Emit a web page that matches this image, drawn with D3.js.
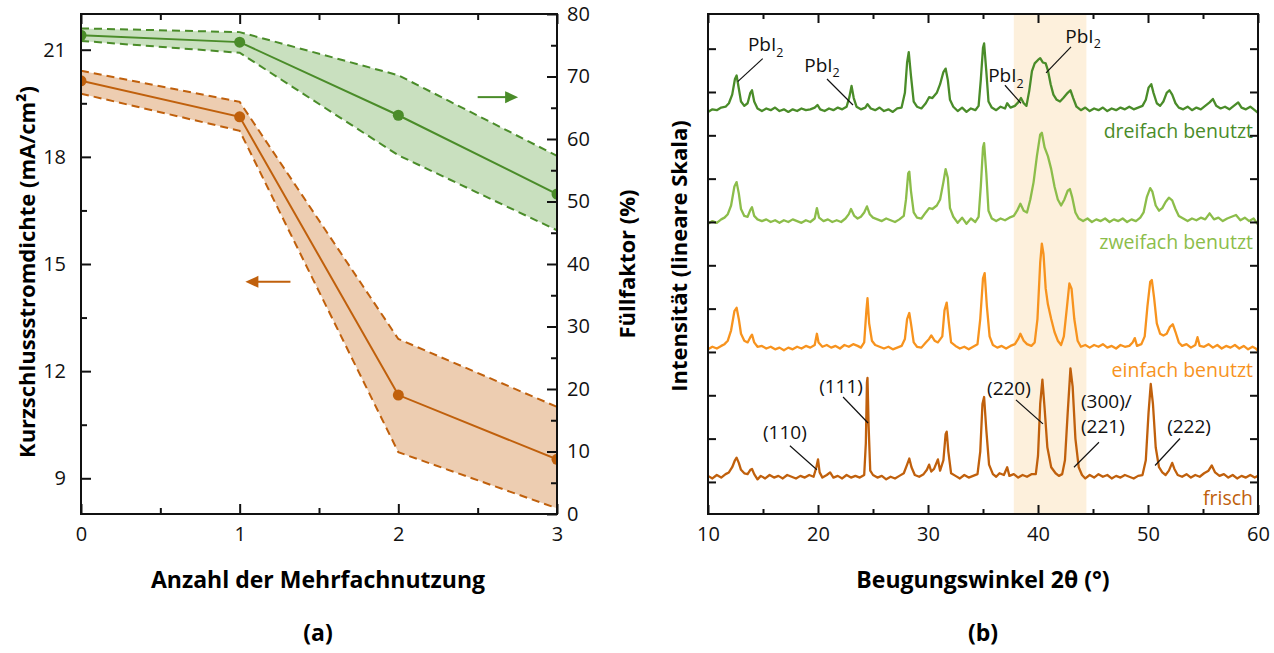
<!DOCTYPE html>
<html>
<head>
<meta charset="utf-8">
<script src="https://cdn.jsdelivr.net/npm/d3@7"></script>
<style>
  body { margin: 0; background: #fff; }
  text { font-family: 'Open Sans', sans-serif; }
</style>
</head>
<body>
<svg id="chart" width="1274" height="653"></svg>
<script>
// ---------- (a) data ----------
const uses = [0, 1, 2, 3];
const jscMean = [20.13, 19.12, 11.33, 9.53];
const jscUpper = [20.41, 19.54, 12.9, 11.0];
const jscLower = [19.77, 18.73, 9.73, 8.16];
const ffMean = [76.6, 75.5, 63.8, 51.2];
const ffUpper = [77.7, 77.1, 70.2, 57.3];
const ffLower = [75.7, 73.8, 57.4, 45.4];

const jscTicks = [9, 12, 15, 18, 21];
const ffTicks = [0, 10, 20, 30, 40, 50, 60, 70, 80];
const useTicks = [0, 1, 2, 3];

// ---------- (b) data : [2theta, intensity above baseline] ----------
const frisch = [
  [10.0,2],[10.4,-1],[10.8,3],[11.2,0],[11.6,4],[11.9,6],[12.2,12],[12.45,20],[12.6,23],[12.8,17],[13.0,9],[13.3,5],
  [13.6,4],[13.85,9],[14.0,10],[14.2,4],[14.5,-2],[14.8,2],[15.2,-1],[15.6,3],[16.0,0],[16.4,2],[16.8,-1],[17.2,3],
  [17.6,1],[18.0,-1],[18.4,2],[18.8,0],[19.2,3],[19.6,1],[19.85,12],[20.0,21],[20.15,6],[20.4,0],[20.8,3],[21.1,6],
  [21.4,0],[21.8,2],[22.2,-1],[22.6,3],[23.0,0],[23.4,2],[23.8,0],[24.2,3],[24.35,40],[24.45,110],[24.5,115],[24.6,60],
  [24.75,8],[25.0,3],[25.4,0],[25.8,2],[26.2,-2],[26.6,1],[27.0,-1],[27.4,2],[27.8,5],[28.1,15],[28.3,22],[28.5,12],
  [28.8,3],[29.2,1],[29.6,4],[29.9,9],[30.1,15],[30.3,7],[30.55,10],[30.9,21],[31.1,8],[31.4,20],[31.6,50],[31.7,53],
  [31.85,30],[32.1,5],[32.5,2],[32.9,-1],[33.3,3],[33.7,0],[34.1,2],[34.5,4],[34.75,30],[34.95,85],[35.1,93],[35.3,55],
  [35.55,15],[35.9,4],[36.2,1],[36.5,5],[36.9,3],[37.2,12],[37.4,2],[37.8,4],[38.2,0],[38.6,3],[39.0,1],[39.4,4],
  [39.8,4],[40.0,25],[40.2,85],[40.4,113],[40.6,80],[40.85,35],[41.2,12],[41.6,5],[41.9,2],[42.2,4],[42.45,20],[42.7,75],
  [42.95,126],[43.15,105],[43.4,45],[43.7,12],[44.0,3],[44.3,-1],[44.7,3],[45.1,0],[45.5,4],[45.9,1],[46.3,3],[46.7,-1],
  [47.1,2],[47.5,0],[47.9,3],[48.3,1],[48.7,-1],[49.1,2],[49.5,3],[49.8,20],[50.05,75],[50.25,108],[50.45,85],[50.7,35],
  [51.0,12],[51.3,6],[51.6,3],[51.9,8],[52.2,17],[52.4,10],[52.7,3],[53.1,1],[53.5,4],[53.9,0],[54.3,3],[54.7,1],
  [55.1,5],[55.5,8],[55.8,14],[56.1,6],[56.5,2],[56.9,4],[57.3,0],[57.7,3],[58.1,-1],[58.5,2],[58.9,0],[59.3,3],
  [59.7,0],[60.0,2]
];
const einfach = [
  [10.0,0],[10.4,3],[10.8,1],[11.2,4],[11.5,6],[11.8,10],[12.1,22],[12.4,44],[12.6,48],[12.8,35],[13.0,18],[13.3,10],
  [13.6,8],[13.85,14],[14.0,17],[14.2,8],[14.5,3],[14.9,4],[15.3,1],[15.7,3],[16.1,0],[16.5,2],[16.9,-1],[17.3,2],
  [17.7,0],[18.1,3],[18.5,1],[18.9,4],[19.3,2],[19.7,5],[19.9,18],[20.05,8],[20.4,3],[20.8,5],[21.2,2],[21.6,4],
  [22.0,1],[22.4,5],[22.8,3],[23.2,6],[23.6,4],[23.9,2],[24.2,8],[24.4,45],[24.5,59],[24.65,30],[24.9,10],[25.2,5],
  [25.6,3],[26.0,1],[26.4,3],[26.8,0],[27.2,2],[27.6,4],[27.9,12],[28.1,35],[28.3,42],[28.45,30],[28.7,8],[29.0,3],
  [29.4,2],[29.8,8],[30.1,12],[30.3,16],[30.6,10],[30.9,8],[31.3,15],[31.5,45],[31.7,54],[31.9,30],[32.1,8],[32.5,4],
  [32.9,1],[33.3,3],[33.7,0],[34.1,3],[34.5,6],[34.75,35],[35.0,82],[35.15,88],[35.35,50],[35.6,15],[35.9,5],[36.3,2],
  [36.7,4],[37.1,1],[37.5,4],[37.9,6],[38.2,12],[38.4,18],[38.7,10],[39.0,6],[39.4,4],[39.7,8],[39.95,35],[40.2,100],
  [40.35,122],[40.5,110],[40.7,70],[40.9,52],[41.2,35],[41.5,20],[41.8,10],[42.1,5],[42.35,15],[42.6,45],[42.85,76],[43.05,70],
  [43.3,35],[43.6,10],[43.9,3],[44.3,5],[44.7,2],[45.1,5],[45.5,3],[45.9,6],[46.3,2],[46.7,4],[47.1,1],[47.5,5],
  [47.9,3],[48.3,4],[48.6,8],[48.8,13],[49.0,4],[49.4,6],[49.7,15],[49.95,50],[50.2,78],[50.35,80],[50.55,60],[50.8,30],
  [51.1,18],[51.4,16],[51.7,18],[52.0,26],[52.25,29],[52.5,20],[52.8,8],[53.1,4],[53.5,6],[53.9,2],[54.3,5],[54.5,14],
  [54.7,4],[55.1,3],[55.5,6],[55.9,2],[56.3,5],[56.7,1],[57.1,4],[57.5,2],[57.9,5],[58.3,1],[58.7,4],[59.1,0],
  [59.5,3],[59.8,1],[60.0,-2]
];
const zweifach = [
  [10.0,-3],[10.4,0],[10.8,-2],[11.2,2],[11.5,4],[11.8,8],[12.1,18],[12.4,40],[12.6,45],[12.8,32],[13.0,14],[13.3,6],
  [13.6,5],[13.85,13],[14.0,16],[14.2,6],[14.5,2],[14.9,0],[15.3,2],[15.7,-1],[16.1,1],[16.5,-2],[16.9,1],[17.3,-1],
  [17.7,2],[18.1,0],[18.5,-2],[18.9,1],[19.3,-1],[19.7,3],[19.9,15],[20.1,4],[20.5,0],[20.9,2],[21.3,-1],[21.7,1],
  [22.1,-1],[22.5,3],[22.8,8],[23.0,14],[23.3,6],[23.6,3],[23.9,5],[24.2,10],[24.45,17],[24.7,8],[25.0,4],[25.4,2],
  [25.8,0],[26.2,3],[26.6,1],[27.0,-1],[27.4,2],[27.8,6],[28.0,25],[28.2,55],[28.3,57],[28.45,35],[28.7,10],[29.0,4],
  [29.4,3],[29.8,10],[30.1,15],[30.4,14],[30.8,18],[31.1,25],[31.4,45],[31.6,60],[31.8,50],[32.0,15],[32.3,5],[32.7,-2],
  [33.1,4],[33.5,-3],[33.9,3],[34.3,-1],[34.6,5],[34.8,40],[35.0,85],[35.1,90],[35.3,55],[35.5,12],[35.8,3],[36.2,0],
  [36.6,3],[37.0,1],[37.4,4],[37.8,6],[38.1,12],[38.4,20],[38.7,12],[39.0,10],[39.3,25],[39.6,45],[39.9,75],[40.2,100],
  [40.35,102],[40.6,85],[40.9,75],[41.2,60],[41.5,40],[41.8,25],[42.1,18],[42.4,25],[42.7,35],[42.9,37],[43.1,28],[43.4,10],
  [43.7,3],[44.1,0],[44.5,3],[44.9,-1],[45.3,2],[45.7,0],[46.1,3],[46.5,-1],[46.9,2],[47.3,0],[47.7,3],[48.1,-1],
  [48.5,2],[48.9,0],[49.3,4],[49.6,10],[49.9,28],[50.2,38],[50.4,34],[50.7,18],[51.0,12],[51.3,15],[51.6,22],[51.9,27],
  [52.2,24],[52.5,14],[52.8,6],[53.2,3],[53.6,0],[54.0,3],[54.4,1],[54.8,4],[55.2,2],[55.6,9],[56.0,2],[56.4,4],
  [56.8,0],[57.2,3],[57.6,5],[58.0,7],[58.4,1],[58.8,4],[59.2,0],[59.6,3],[60.0,-4]
];
const dreifach = [
  [10.0,-2],[10.4,1],[10.8,0],[11.2,3],[11.6,4],[11.9,8],[12.2,18],[12.45,36],[12.6,40],[12.8,25],[13.0,10],[13.3,5],
  [13.6,8],[13.85,20],[14.0,23],[14.2,10],[14.5,2],[14.9,-1],[15.3,2],[15.7,0],[16.1,3],[16.5,-1],[16.9,1],[17.3,-2],
  [17.7,1],[18.1,-1],[18.5,2],[18.9,0],[19.3,1],[19.7,3],[19.95,6],[20.2,1],[20.6,-1],[21.0,2],[21.4,0],[21.8,3],
  [22.2,1],[22.6,4],[22.85,15],[23.05,28],[23.25,14],[23.5,4],[23.9,1],[24.3,3],[24.5,7],[24.8,2],[25.2,0],[25.6,3],
  [26.0,-1],[26.4,1],[26.8,-2],[27.2,2],[27.6,3],[27.9,20],[28.1,55],[28.25,67],[28.45,40],[28.7,10],[29.0,4],[29.4,2],
  [29.8,8],[30.1,15],[30.4,14],[30.8,20],[31.1,30],[31.4,44],[31.6,48],[31.8,35],[32.0,12],[32.3,4],[32.7,-1],[33.1,3],
  [33.5,-2],[33.9,2],[34.3,0],[34.6,5],[34.8,35],[35.0,72],[35.1,77],[35.3,45],[35.5,10],[35.8,3],[36.2,0],[36.6,4],
  [37.0,2],[37.2,8],[37.5,3],[37.9,5],[38.2,9],[38.45,14],[38.7,8],[38.95,5],[39.2,22],[39.45,45],[39.7,54],[40.0,58],
  [40.2,60],[40.45,55],[40.7,54],[40.9,46],[41.15,30],[41.4,18],[41.7,12],[42.0,10],[42.3,14],[42.7,20],[42.95,23],[43.2,14],
  [43.5,4],[43.9,0],[44.3,3],[44.7,-1],[45.1,2],[45.5,0],[45.9,3],[46.3,-1],[46.7,2],[47.1,0],[47.5,3],[47.9,1],
  [48.3,4],[48.7,1],[49.1,3],[49.5,5],[49.8,12],[50.05,26],[50.3,30],[50.5,20],[50.8,8],[51.1,5],[51.4,10],[51.7,20],
  [51.95,23],[52.2,18],[52.5,8],[52.8,3],[53.2,1],[53.6,4],[54.0,0],[54.4,3],[54.8,1],[55.2,5],[55.6,9],[55.9,13],
  [56.2,5],[56.6,2],[57.0,4],[57.4,1],[57.8,5],[58.2,9],[58.5,3],[58.9,1],[59.3,4],[59.7,0],[60.0,-3]
];
const patterns = [frisch, einfach, zweifach, dreifach];
const patternNames = ['frisch', 'einfach benutzt', 'zweifach benutzt', 'dreifach benutzt'];
const patternOffsets = [5, 153, 301, 429];
const patternColors = ['#c0600c', '#f7931e', '#8cbd4a', '#4a8c29'];

const angleTicks = [10, 20, 30, 40, 50, 60];
const angleMinor = [15, 25, 35, 45, 55];
const intensityTicks = [0, 50, 100, 150, 200, 250, 300, 350, 400, 450, 500];
const highlight = [37.8, 44.4];

// annotations: anchor [2theta, intensity], line end / text centre as pixel offsets
const annotations = [
  { text: ['PbI', '2'], at: [12.7, 462], line: [25, -23], pos: [28, -37] },
  { text: ['PbI', '2'], at: [23.18, 435], line: [-26, -26], pos: [-31, -40] },
  { text: ['PbI', '2'], at: [38.45, 437], line: [-16, -18], pos: [-15, -28] },
  { text: ['PbI', '2'], at: [40.73, 472], line: [25, -26], pos: [37, -37] },
  { text: ['(110)'], at: [19.9, 14], line: [-27, -24], pos: [-32, -37] },
  { text: ['(111)'], at: [24.55, 68], line: [-25, -26], pos: [-27, -37] },
  { text: ['(220)'], at: [40.45, 67], line: [-27, -24], pos: [-34, -36] },
  { text: ['(300)/', '(221)'], at: [43.27, 17], line: [25, -25], pos: [7, -66], left: true },
  { text: ['(222)'], at: [50.64, 19], line: [25, -27], pos: [34, -39] },
];

// ---------- layout ----------
const svg = d3.select('#chart');
const green = '#4a8c29';
const orange = '#c0600c';
const yTop = 14;
const yBottom = 514;
const tickFont = 20;
const titleFont = 23;
const noteFont = 19;

// ======== panel (a) ========
const ax = { l: 81, r: 557 };
const x = d3.scaleLinear([0, 3], [ax.l, ax.r]);
const yJ = d3.scaleLinear([8, 22], [yBottom, yTop]);
const yF = d3.scaleLinear([0, 80], [yBottom, yTop]);

const ga = svg.append('g');
ga.append('clipPath').attr('id', 'clipA')
  .append('rect').attr('x', ax.l).attr('y', yTop).attr('width', ax.r - ax.l).attr('height', yBottom - yTop);

const plotA = ga.append('g').attr('clip-path', 'url(#clipA)');

function band(g, upper, lower, mean, yS, col, fill) {
  const area = d3.area().x((d, i) => x(uses[i])).y0((d, i) => yS(lower[i])).y1((d) => yS(d));
  g.append('path').datum(upper).attr('d', area).attr('fill', fill);
  const line = d3.line().x((d, i) => x(uses[i])).y((d) => yS(d));
  [upper, lower].forEach((s) => {
    g.append('path').datum(s).attr('d', line).attr('fill', 'none')
      .attr('stroke', col).attr('stroke-width', 2).attr('stroke-dasharray', '8,5');
  });
  g.append('path').datum(mean).attr('d', line).attr('fill', 'none')
    .attr('stroke', col).attr('stroke-width', 2);
  g.selectAll(null).data(mean).join('circle')
    .attr('cx', (d, i) => x(uses[i])).attr('cy', (d) => yS(d)).attr('r', 5.5).attr('fill', col);
}
band(plotA, ffUpper, ffLower, ffMean, yF, green, '#c9e0bf');
band(plotA, jscUpper, jscLower, jscMean, yJ, orange, '#edcdb1');

// arrows
function arrow(g, x1, x2, yy, col) {
  const dir = Math.sign(x2 - x1);
  g.append('line').attr('x1', x1).attr('x2', x2 - dir * 10).attr('y1', yy).attr('y2', yy)
    .attr('stroke', col).attr('stroke-width', 2);
  g.append('path')
    .attr('d', `M${x2},${yy} L${x2 - dir * 13},${yy - 6} L${x2 - dir * 13},${yy + 6} Z`)
    .attr('fill', col);
}
arrow(ga, x(2.5), x(2.755), yF(66.7), green);
arrow(ga, x(1.32), x(1.036), yJ(14.5), orange);

function styleAxis(g, size) {
  g.select('.domain').remove();
  g.selectAll('.tick line').attr('stroke', '#111').attr('stroke-width', 2);
  g.selectAll('text').attr('font-size', size).attr('fill', '#111');
}

// bottom / top x
ga.append('g').attr('transform', `translate(0,${yBottom})`)
  .call(d3.axisBottom(x).tickValues(useTicks).tickSize(-10).tickPadding(13).tickFormat(d3.format('d')))
  .call((g) => styleAxis(g, tickFont));
ga.append('g').attr('transform', `translate(0,${yBottom})`)
  .call(d3.axisBottom(x).tickValues([0.5, 1.5, 2.5]).tickSize(-6).tickFormat(''))
  .call((g) => styleAxis(g, 0));
ga.append('g').attr('transform', `translate(0,${yTop})`)
  .call(d3.axisTop(x).tickValues(useTicks).tickSize(-10).tickFormat(''))
  .call((g) => styleAxis(g, 0));
ga.append('g').attr('transform', `translate(0,${yTop})`)
  .call(d3.axisTop(x).tickValues([0.5, 1.5, 2.5]).tickSize(-6).tickFormat(''))
  .call((g) => styleAxis(g, 0));

// left y
ga.append('g').attr('transform', `translate(${ax.l},0)`)
  .call(d3.axisLeft(yJ).tickValues(jscTicks).tickSize(-10).tickPadding(15))
  .call((g) => styleAxis(g, tickFont));
ga.append('g').attr('transform', `translate(${ax.l},0)`)
  .call(d3.axisLeft(yJ).tickValues([10.5, 13.5, 16.5, 19.5]).tickSize(-6).tickFormat(''))
  .call((g) => styleAxis(g, 0));
// right y
ga.append('g').attr('transform', `translate(${ax.r},0)`)
  .call(d3.axisRight(yF).tickValues(ffTicks).tickSize(-10).tickPadding(10))
  .call((g) => styleAxis(g, tickFont));
ga.append('g').attr('transform', `translate(${ax.r},0)`)
  .call(d3.axisRight(yF).tickValues(d3.range(5, 80, 10)).tickSize(-6).tickFormat(''))
  .call((g) => styleAxis(g, 0));

ga.append('rect').attr('x', ax.l).attr('y', yTop).attr('width', ax.r - ax.l).attr('height', yBottom - yTop)
  .attr('fill', 'none').attr('stroke', '#111').attr('stroke-width', 2);

ga.append('text').attr('transform', `translate(27,${(yTop + yBottom) / 2 + 8}) rotate(-90)`)
  .attr('text-anchor', 'middle').attr('dy', '0.35em').attr('font-size', titleFont - 1).attr('font-weight', 700)
  .text('Kurzschlussstromdichte (mA/cm²)');
ga.append('text').attr('transform', `translate(627,${(yTop + yBottom) / 2}) rotate(-90)`)
  .attr('text-anchor', 'middle').attr('dy', '0.35em').attr('font-size', titleFont - 1).attr('font-weight', 700)
  .text('Füllfaktor (%)');
ga.append('text').attr('x', 318).attr('y', 580).attr('text-anchor', 'middle').attr('dy', '0.35em')
  .attr('font-size', titleFont).attr('font-weight', 700).text('Anzahl der Mehrfachnutzung');
ga.append('text').attr('x', 318).attr('y', 633).attr('text-anchor', 'middle').attr('dy', '0.35em')
  .attr('font-size', titleFont).attr('font-weight', 700).text('(a)');

// ======== panel (b) ========
const bx = { l: 708, r: 1258 };
const x2 = d3.scaleLinear([10, 60], [bx.l, bx.r]);
const yI = d3.scaleLinear([-37, 540], [yBottom, yTop]);

const gb = svg.append('g');
gb.append('rect').attr('x', x2(highlight[0])).attr('y', yTop)
  .attr('width', x2(highlight[1]) - x2(highlight[0])).attr('height', yBottom - yTop)
  .attr('fill', '#fdf0dc');

patterns.forEach((p, i) => {
  const line = d3.line().x((d) => x2(d[0])).y((d) => yI(patternOffsets[i] + d[1]));
  gb.append('path').datum(p).attr('d', line).attr('fill', 'none')
    .attr('stroke', patternColors[i]).attr('stroke-width', 2.3).attr('stroke-linejoin', 'round');
  gb.append('text').attr('x', 1253).attr('y', yI(patternOffsets[i]) + 21)
    .attr('text-anchor', 'end').attr('dy', '0.35em').attr('font-size', 19.5)
    .attr('fill', patternColors[i]).text(patternNames[i]);
});

annotations.forEach((a) => {
  const px = x2(a.at[0]);
  const py = yI(a.at[1]);
  gb.append('line').attr('x1', px).attr('y1', py).attr('x2', px + a.line[0]).attr('y2', py + a.line[1])
    .attr('stroke', '#111').attr('stroke-width', 1.2);
  if (a.left) {
    a.text.forEach((t, k) => {
      gb.append('text').attr('x', px + a.pos[0]).attr('y', py + a.pos[1] + k * 25)
        .attr('dy', '0.35em').attr('font-size', noteFont).attr('fill', '#111').text(t);
    });
  } else {
    const t = gb.append('text').attr('x', px + a.pos[0]).attr('y', py + a.pos[1])
      .attr('text-anchor', 'middle').attr('dy', '0.35em').attr('font-size', noteFont).attr('fill', '#111');
    t.append('tspan').text(a.text[0]);
    if (a.text[1]) t.append('tspan').attr('font-size', 12.5).attr('dy', '0.45em').text(a.text[1]);
  }
});

gb.append('g').attr('transform', `translate(0,${yBottom})`)
  .call(d3.axisBottom(x2).tickValues(angleTicks).tickSize(-9).tickPadding(13).tickFormat(d3.format('d')))
  .call((g) => styleAxis(g, tickFont));
gb.append('g').attr('transform', `translate(0,${yBottom})`)
  .call(d3.axisBottom(x2).tickValues(angleMinor).tickSize(-5).tickFormat(''))
  .call((g) => styleAxis(g, 0));
gb.append('g').attr('transform', `translate(0,${yTop})`)
  .call(d3.axisTop(x2).tickValues(angleTicks).tickSize(-9).tickFormat(''))
  .call((g) => styleAxis(g, 0));
gb.append('g').attr('transform', `translate(0,${yTop})`)
  .call(d3.axisTop(x2).tickValues(angleMinor).tickSize(-5).tickFormat(''))
  .call((g) => styleAxis(g, 0));
gb.append('g').attr('transform', `translate(${bx.l},0)`)
  .call(d3.axisLeft(yI).tickValues(intensityTicks).tickSize(-8).tickFormat(''))
  .call((g) => styleAxis(g, 0));
gb.append('g').attr('transform', `translate(${bx.r},0)`)
  .call(d3.axisRight(yI).tickValues(intensityTicks).tickSize(-8).tickFormat(''))
  .call((g) => styleAxis(g, 0));

gb.append('rect').attr('x', bx.l).attr('y', yTop).attr('width', bx.r - bx.l).attr('height', yBottom - yTop)
  .attr('fill', 'none').attr('stroke', '#111').attr('stroke-width', 2);

gb.append('text').attr('transform', `translate(679,${(yTop + yBottom) / 2 - 8}) rotate(-90)`)
  .attr('text-anchor', 'middle').attr('dy', '0.35em').attr('font-size', titleFont - 1).attr('font-weight', 700)
  .text('Intensität (lineare Skala)');
gb.append('text').attr('x', 983).attr('y', 580).attr('text-anchor', 'middle').attr('dy', '0.35em')
  .attr('font-size', titleFont).attr('font-weight', 700).text('Beugungswinkel 2θ (°)');
gb.append('text').attr('x', 983).attr('y', 633).attr('text-anchor', 'middle').attr('dy', '0.35em')
  .attr('font-size', titleFont).attr('font-weight', 700).text('(b)');
</script>
</body>
</html>
